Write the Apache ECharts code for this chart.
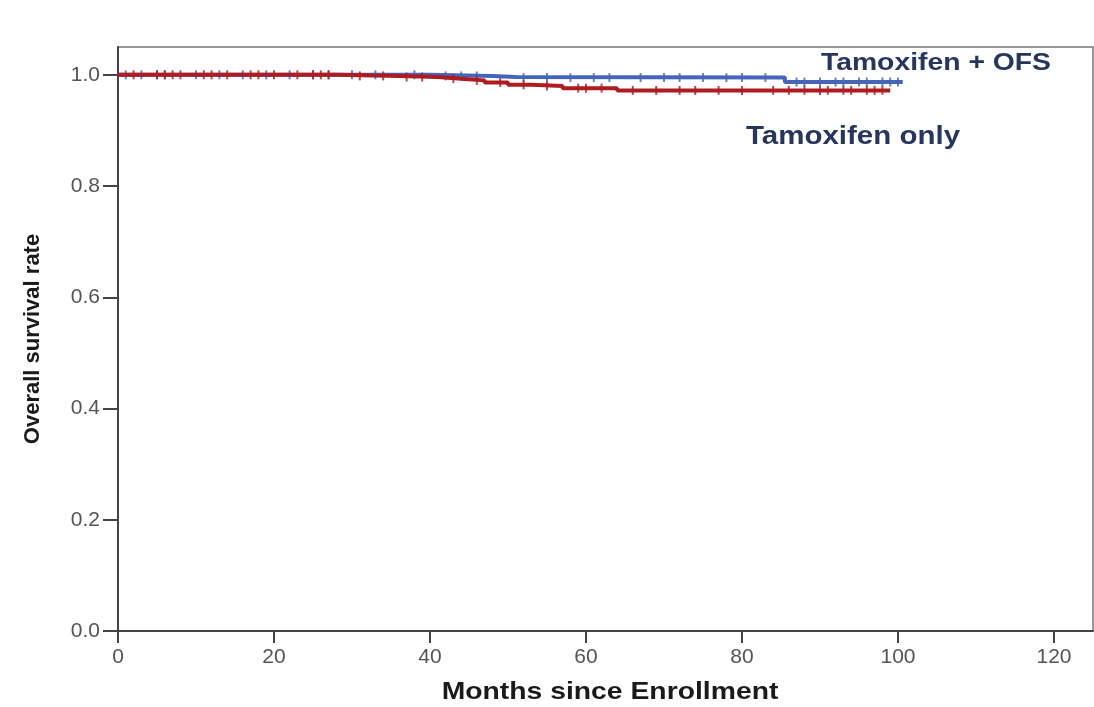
<!DOCTYPE html>
<html>
<head>
<meta charset="utf-8">
<script src="https://cdn.jsdelivr.net/npm/echarts@6/dist/echarts.min.js"></script>
<style>
  html, body { margin: 0; padding: 0; background: #fff; }
  #chart { width: 1094px; height: 707px; }
</style>
</head>
<body>
<div id="chart"></div>
<script>
// Kaplan-Meier steps: [month, survival]
const ofsSteps = [[0, 1.0], [40, 0.998], [48, 0.996], [51, 0.995], [85.5, 0.987], [100.6, 0.987]];
const onlySteps = [[0, 1.0], [28, 0.998], [36, 0.996], [41, 0.993], [44, 0.99], [47, 0.986],
  [50, 0.982], [53, 0.98], [57, 0.976], [64, 0.972], [99, 0.972]];
// censor marks (months)
const ofsCensor = [1, 3, 5, 6, 10, 13, 16, 19, 22, 25, 27, 30, 33, 38, 42, 44, 46, 52, 55, 58,
  61, 63, 67, 70, 72, 75, 78, 80, 83, 87, 88, 90, 92, 93, 95, 96, 98, 99, 100];
const onlyCensor = [2, 5, 6, 7, 8, 11, 12, 14, 17, 18, 20, 23, 25, 26, 27, 31, 34, 37, 39, 43,
  46, 49, 52, 55, 59, 60, 62, 66, 69, 72, 74, 77, 80, 84, 86, 88, 90, 91, 93, 94, 96, 97, 98];
const xTicks = [0, 20, 40, 60, 80, 100, 120];
const yTicks = [0, 0.2, 0.4, 0.6, 0.8, 1.0];

const blue = '#4566b8';
const red = '#ae1c22';
const font = 'Liberation Sans, Arial, sans-serif';

function valueAt(steps, t) {
  let v = steps[0][1];
  for (const s of steps) { if (s[0] <= t) v = s[1]; }
  return v;
}

const chart = echarts.init(document.getElementById('chart'));
chart.setOption({
  backgroundColor: '#fff',
  animation: false,
  textStyle: { fontFamily: font },
  grid: { left: 118, right: 1, top: 47, bottom: 76, show: true, borderColor: '#777', borderWidth: 1.5 },
  xAxis: {
    type: 'value', min: 0, max: 125, interval: 20,
    axisLine: { lineStyle: { color: '#444', width: 2 } },
    axisTick: { show: true, length: 12, customValues: xTicks, lineStyle: { color: '#444', width: 2 } },
    axisLabel: { fontSize: 21, color: '#555', margin: 16, customValues: xTicks,
      formatter: v => String(v) },
    splitLine: { show: false }
  },
  yAxis: {
    type: 'value', min: 0, max: 1.05, interval: 0.2,
    name: 'Overall survival rate', nameLocation: 'middle', nameGap: 74, nameRotate: 90,
    nameTextStyle: { fontSize: 22, fontWeight: 'bold', color: '#1a1a1a' },
    axisLine: { show: true, lineStyle: { color: '#444', width: 2 } },
    axisTick: { show: true, length: 15, customValues: yTicks, lineStyle: { color: '#444', width: 2 } },
    axisLabel: { fontSize: 21, color: '#555', margin: 18, customValues: yTicks,
      formatter: v => v.toFixed(1) },
    splitLine: { show: false }
  },
  series: [
    {
      name: 'Tamoxifen only', type: 'line', step: 'end', data: onlySteps,
      showSymbol: false, lineStyle: { color: red, width: 4 }, z: 3
    },
    {
      name: 'Tamoxifen + OFS', type: 'line', step: 'end', data: ofsSteps,
      showSymbol: false, lineStyle: { color: blue, width: 4 }, z: 2
    },
    {
      type: 'scatter', data: onlyCensor.map(t => [t, valueAt(onlySteps, t)]),
      symbol: 'rect', symbolSize: [2, 9], itemStyle: { color: red }, z: 4
    },
    {
      type: 'scatter', data: ofsCensor.map(t => [t, valueAt(ofsSteps, t)]),
      symbol: 'rect', symbolSize: [2, 9], itemStyle: { color: blue }, z: 2
    }
  ],
  graphic: [
    { type: 'text', x: 936, y: 63, scaleX: 1.18,
      style: { text: 'Tamoxifen + OFS', font: 'bold 24px ' + font, fill: '#26365f',
        align: 'center', verticalAlign: 'middle' } },
    { type: 'text', x: 853, y: 137, scaleX: 1.18,
      style: { text: 'Tamoxifen only', font: 'bold 25px ' + font, fill: '#26365f',
        align: 'center', verticalAlign: 'middle' } },
    { type: 'text', x: 610, y: 692, scaleX: 1.18,
      style: { text: 'Months since Enrollment', font: 'bold 24px ' + font, fill: '#1a1a1a',
        align: 'center', verticalAlign: 'middle' } }
  ]
});
</script>
</body>
</html>
